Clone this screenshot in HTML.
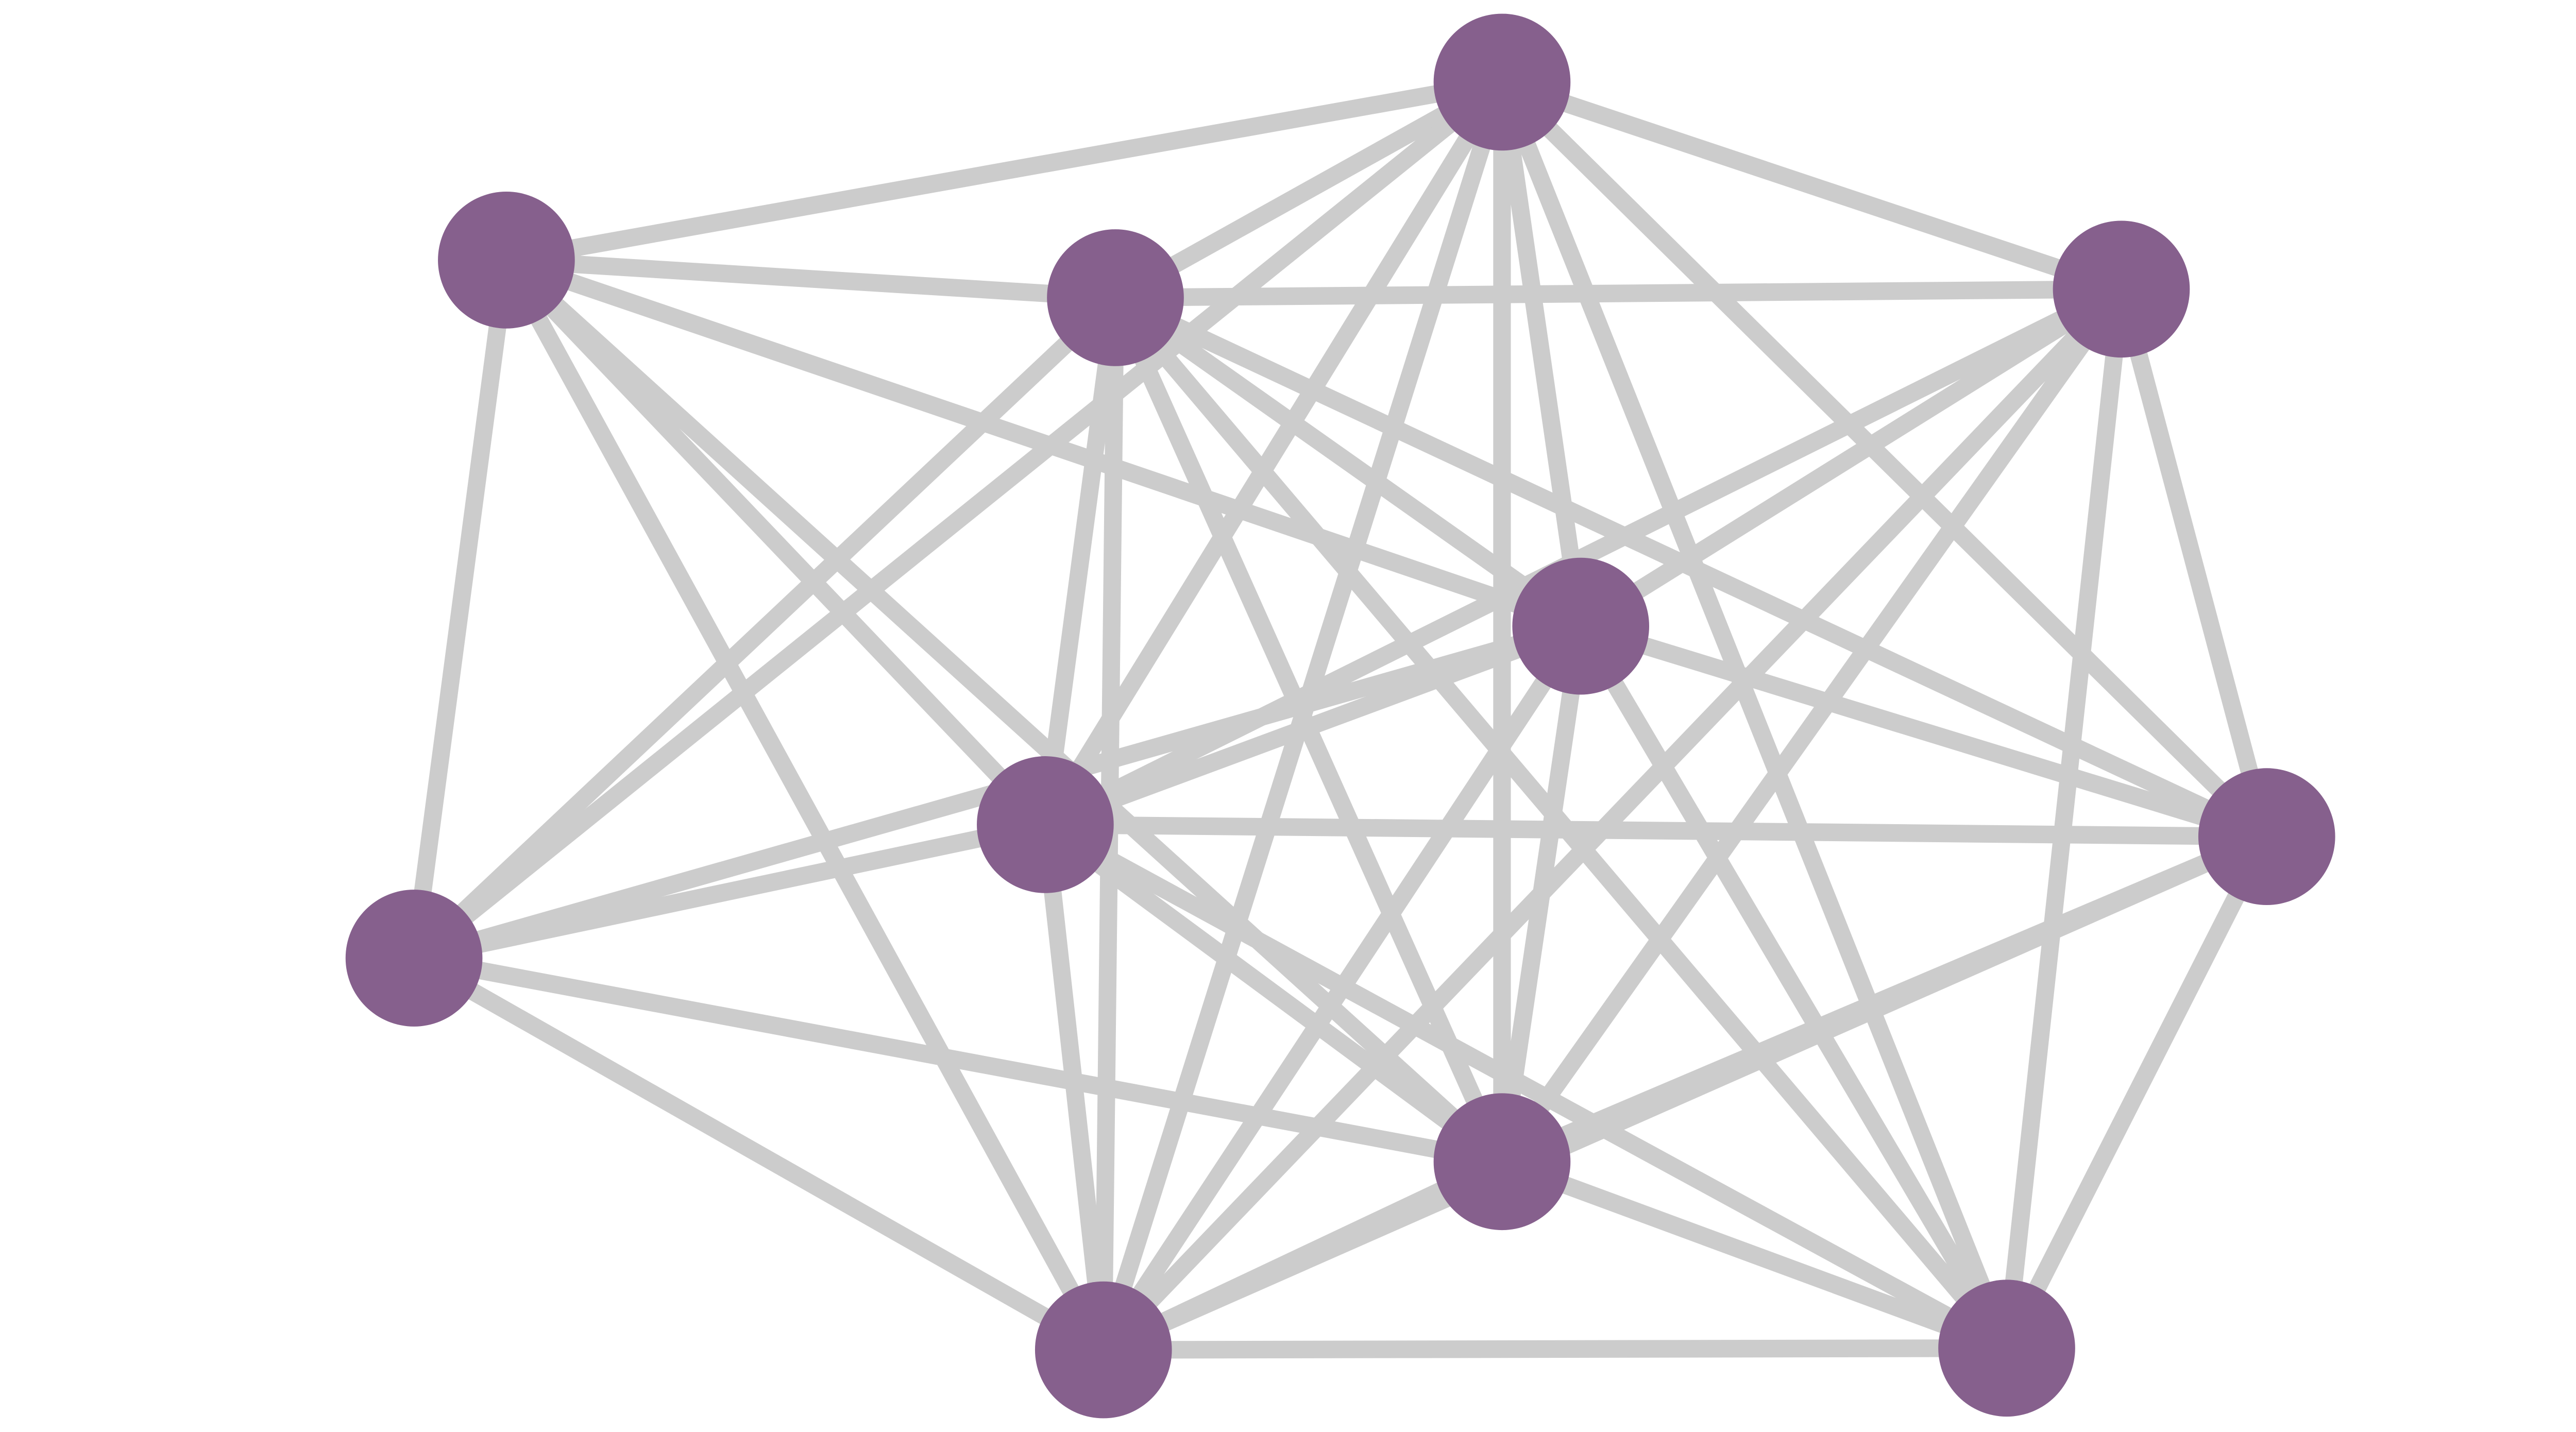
<!DOCTYPE html>
<html><head><meta charset="utf-8"><style>
html,body{margin:0;padding:0;background:#fff;width:5200px;height:2780px;overflow:hidden}
svg{display:block}
</style></head><body>
<svg id="g" width="5200" height="2780" viewBox="0 0 1566 837" preserveAspectRatio="none" xmlns="http://www.w3.org/2000/svg">
<g id="edges" stroke="#cccccc" stroke-width="10.3" stroke-linecap="butt"></g>
<g id="nodes" fill="#86608d"></g>
</svg>
<script>
var P={A:[878,48],B:[296,152],C:[652,174],D:[1240,169],E:[924,366],F:[611,482],G:[1325,489],H:[242,560],I:[878,679],J:[645,789],K:[1173,788]};
var keys="ABCDEFGHIJK".split("");
var missing={"BD":1,"BG":1,"BK":1,"DH":1,"GH":1,"HK":1};
var ns="http://www.w3.org/2000/svg",e=document.getElementById("edges"),c=document.getElementById("nodes");
for(var i=0;i<keys.length;i++){for(var j=i+1;j<keys.length;j++){
 if(missing[keys[i]+keys[j]])continue;
 var a=P[keys[i]],b=P[keys[j]];
 var l=document.createElementNS(ns,"line");l.setAttribute("x1",a[0]);l.setAttribute("y1",a[1]);l.setAttribute("x2",b[0]);l.setAttribute("y2",b[1]);e.appendChild(l);}}
for(var i=0;i<keys.length;i++){var p=P[keys[i]];var k=document.createElementNS(ns,"circle");k.setAttribute("cx",p[0]);k.setAttribute("cy",p[1]);k.setAttribute("r",40);c.appendChild(k);}
</script>
</body></html>
